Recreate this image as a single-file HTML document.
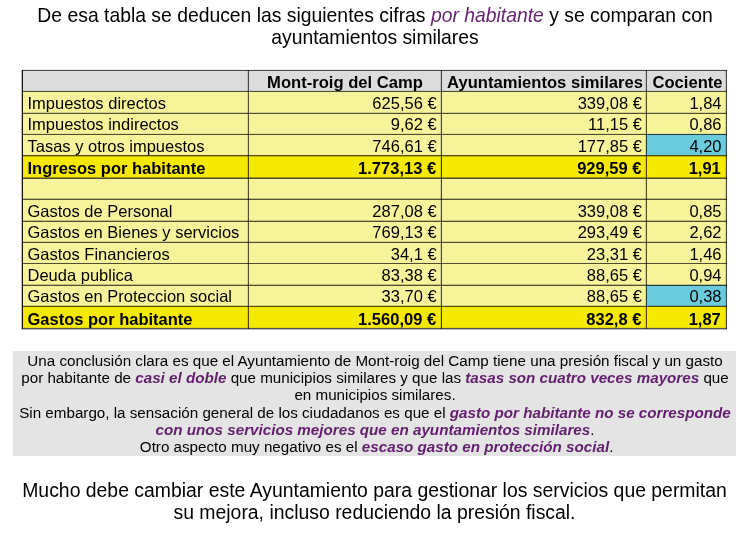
<!DOCTYPE html>
<html><head><meta charset="utf-8"><style>
html,body{margin:0;padding:0;background:#fff;width:743px;height:543px;overflow:hidden;position:relative;font-family:"Liberation Sans",sans-serif;color:#000}
.a{position:absolute}
.c{position:absolute;white-space:nowrap;font-size:16.5px;line-height:20px}
.r{text-align:right}
.ctr{text-align:center}
.b{font-weight:bold}
.hd{font-size:16.6px}
.t{position:absolute;text-align:center;font-size:19.35px;line-height:22px;white-space:nowrap}
.p{color:#682472;font-style:italic}
.g{position:absolute;text-align:center;font-size:15.2px;line-height:17px;white-space:nowrap;width:800px}
.pb{color:#63206e;font-style:italic;font-weight:bold}
</style></head><body><div id="w" style="position:absolute;left:0;top:0;width:743px;height:543px;will-change:transform">
<div class="t" style="top:4px;left:3.5px;width:743px">De esa tabla se deducen las siguientes cifras <span class="p">por habitante</span> y se comparan con<br>ayuntamientos similares</div>
<div class="a" style="left:22px;top:70px;width:704px;height:21px;background:#dcdcdc"></div>
<div class="a" style="left:22px;top:91px;width:704px;height:22px;background:#f7f39b"></div>
<div class="a" style="left:22px;top:113px;width:704px;height:21px;background:#f7f39b"></div>
<div class="a" style="left:22px;top:134px;width:704px;height:21px;background:#f7f39b"></div>
<div class="a" style="left:646px;top:134px;width:80px;height:21px;background:#6bcbdd"></div>
<div class="a" style="left:22px;top:155px;width:704px;height:23px;background:#f5e900"></div>
<div class="a" style="left:22px;top:178px;width:704px;height:21px;background:#f7f39b"></div>
<div class="a" style="left:22px;top:199px;width:704px;height:22px;background:#f7f39b"></div>
<div class="a" style="left:22px;top:221px;width:704px;height:21px;background:#f7f39b"></div>
<div class="a" style="left:22px;top:242px;width:704px;height:21px;background:#f7f39b"></div>
<div class="a" style="left:22px;top:263px;width:704px;height:22px;background:#f7f39b"></div>
<div class="a" style="left:22px;top:285px;width:704px;height:21px;background:#f7f39b"></div>
<div class="a" style="left:646px;top:285px;width:80px;height:21px;background:#6bcbdd"></div>
<div class="a" style="left:22px;top:306px;width:704px;height:22px;background:#f5e900"></div>
<div class="a" style="left:22px;top:70px;width:705px;height:1px;background:rgba(0,0,0,0.68)"></div>
<div class="a" style="left:22px;top:69px;width:705px;height:1px;background:rgba(0,0,0,0.07)"></div>
<div class="a" style="left:22px;top:91px;width:705px;height:1px;background:rgba(0,0,0,0.68)"></div>
<div class="a" style="left:22px;top:90px;width:705px;height:1px;background:rgba(0,0,0,0.07)"></div>
<div class="a" style="left:22px;top:113px;width:705px;height:1px;background:rgba(0,0,0,0.68)"></div>
<div class="a" style="left:22px;top:112px;width:705px;height:1px;background:rgba(0,0,0,0.14)"></div>
<div class="a" style="left:22px;top:134px;width:705px;height:1px;background:rgba(0,0,0,0.68)"></div>
<div class="a" style="left:22px;top:133px;width:705px;height:1px;background:rgba(0,0,0,0.07)"></div>
<div class="a" style="left:22px;top:155px;width:705px;height:1px;background:rgba(0,0,0,0.68)"></div>
<div class="a" style="left:22px;top:156px;width:705px;height:1px;background:rgba(0,0,0,0.21)"></div>
<div class="a" style="left:22px;top:178px;width:705px;height:1px;background:rgba(0,0,0,0.68)"></div>
<div class="a" style="left:22px;top:177px;width:705px;height:1px;background:rgba(0,0,0,0.35)"></div>
<div class="a" style="left:22px;top:199px;width:705px;height:1px;background:rgba(0,0,0,0.68)"></div>
<div class="a" style="left:22px;top:198px;width:705px;height:1px;background:rgba(0,0,0,0.21)"></div>
<div class="a" style="left:22px;top:221px;width:705px;height:1px;background:rgba(0,0,0,0.68)"></div>
<div class="a" style="left:22px;top:220px;width:705px;height:1px;background:rgba(0,0,0,0.21)"></div>
<div class="a" style="left:22px;top:242px;width:705px;height:1px;background:rgba(0,0,0,0.68)"></div>
<div class="a" style="left:22px;top:241px;width:705px;height:1px;background:rgba(0,0,0,0.14)"></div>
<div class="a" style="left:22px;top:263px;width:705px;height:1px;background:rgba(0,0,0,0.68)"></div>
<div class="a" style="left:22px;top:285px;width:705px;height:1px;background:rgba(0,0,0,0.68)"></div>
<div class="a" style="left:22px;top:284px;width:705px;height:1px;background:rgba(0,0,0,0.21)"></div>
<div class="a" style="left:22px;top:306px;width:705px;height:1px;background:rgba(0,0,0,0.68)"></div>
<div class="a" style="left:22px;top:305px;width:705px;height:1px;background:rgba(0,0,0,0.14)"></div>
<div class="a" style="left:22px;top:328px;width:705px;height:1px;background:rgba(0,0,0,0.68)"></div>
<div class="a" style="left:22px;top:327px;width:705px;height:1px;background:rgba(0,0,0,0.07)"></div>
<div class="a" style="left:21px;top:70px;width:1px;height:260px;background:rgba(0,0,0,0.18)"></div>
<div class="a" style="left:22px;top:329px;width:705px;height:1px;background:rgba(0,0,0,0.25)"></div>
<div class="a" style="left:22px;top:70px;width:1px;height:259px;background:rgba(0,0,0,0.92)"></div>
<div class="a" style="left:21px;top:70px;width:1px;height:259px;background:rgba(0,0,0,0.12)"></div>
<div class="a" style="left:248px;top:70px;width:1px;height:259px;background:rgba(0,0,0,0.68)"></div>
<div class="a" style="left:247px;top:70px;width:1px;height:259px;background:rgba(0,0,0,0.12)"></div>
<div class="a" style="left:441px;top:70px;width:1px;height:259px;background:rgba(0,0,0,0.7)"></div>
<div class="a" style="left:440px;top:70px;width:1px;height:259px;background:rgba(0,0,0,0.12)"></div>
<div class="a" style="left:646px;top:70px;width:1px;height:259px;background:rgba(0,0,0,0.68)"></div>
<div class="a" style="left:645px;top:70px;width:1px;height:259px;background:rgba(0,0,0,0.12)"></div>
<div class="a" style="left:726px;top:70px;width:1px;height:259px;background:rgba(0,0,0,0.72)"></div>
<div class="a" style="left:725px;top:70px;width:1px;height:259px;background:rgba(0,0,0,0.12)"></div>
<div class="c ctr b hd" style="left:249px;width:192px;top:73px">Mont-roig del Camp</div>
<div class="c ctr b hd" style="left:443px;width:204px;top:73px">Ayuntamientos similares</div>
<div class="c ctr b hd" style="left:648px;width:79px;top:73px">Cociente</div>
<div class="c" style="left:27.5px;top:93px">Impuestos directos</div>
<div class="c r" style="left:248px;width:188.60000000000002px;top:93px">625,56 €</div>
<div class="c r" style="left:441px;width:200.89999999999998px;top:93px">339,08 €</div>
<div class="c r" style="left:646px;width:75.5px;top:93px">1,84</div>
<div class="c" style="left:27.5px;top:114px">Impuestos indirectos</div>
<div class="c r" style="left:248px;width:188.60000000000002px;top:114px">9,62 €</div>
<div class="c r" style="left:441px;width:200.89999999999998px;top:114px">11,15 €</div>
<div class="c r" style="left:646px;width:75.5px;top:114px">0,86</div>
<div class="c" style="left:27.5px;top:136px">Tasas y otros impuestos</div>
<div class="c r" style="left:248px;width:188.60000000000002px;top:136px">746,61 €</div>
<div class="c r" style="left:441px;width:200.89999999999998px;top:136px">177,85 €</div>
<div class="c r" style="left:646px;width:75.5px;top:136px">4,20</div>
<div class="c b" style="left:27.5px;top:158px">Ingresos por habitante</div>
<div class="c r b" style="left:248px;width:188.10000000000002px;top:158px">1.773,13 €</div>
<div class="c r b" style="left:441px;width:200.39999999999998px;top:158px">929,59 €</div>
<div class="c r b" style="left:646px;width:74.79999999999995px;top:158px">1,91</div>
<div class="c" style="left:27.5px;top:201px">Gastos de Personal</div>
<div class="c r" style="left:248px;width:188.60000000000002px;top:201px">287,08 €</div>
<div class="c r" style="left:441px;width:200.89999999999998px;top:201px">339,08 €</div>
<div class="c r" style="left:646px;width:75.5px;top:201px">0,85</div>
<div class="c" style="left:27.5px;top:222px">Gastos en Bienes y servicios</div>
<div class="c r" style="left:248px;width:188.60000000000002px;top:222px">769,13 €</div>
<div class="c r" style="left:441px;width:200.89999999999998px;top:222px">293,49 €</div>
<div class="c r" style="left:646px;width:75.5px;top:222px">2,62</div>
<div class="c" style="left:27.5px;top:244px">Gastos Financieros</div>
<div class="c r" style="left:248px;width:188.60000000000002px;top:244px">34,1 €</div>
<div class="c r" style="left:441px;width:200.89999999999998px;top:244px">23,31 €</div>
<div class="c r" style="left:646px;width:75.5px;top:244px">1,46</div>
<div class="c" style="left:27.5px;top:265px">Deuda publica</div>
<div class="c r" style="left:248px;width:188.60000000000002px;top:265px">83,38 €</div>
<div class="c r" style="left:441px;width:200.89999999999998px;top:265px">88,65 €</div>
<div class="c r" style="left:646px;width:75.5px;top:265px">0,94</div>
<div class="c" style="left:27.5px;top:286px">Gastos en Proteccion social</div>
<div class="c r" style="left:248px;width:188.60000000000002px;top:286px">33,70 €</div>
<div class="c r" style="left:441px;width:200.89999999999998px;top:286px">88,65 €</div>
<div class="c r" style="left:646px;width:75.5px;top:286px">0,38</div>
<div class="c b" style="left:27.5px;top:309px">Gastos por habitante</div>
<div class="c r b" style="left:248px;width:188.10000000000002px;top:309px">1.560,09 €</div>
<div class="c r b" style="left:441px;width:200.39999999999998px;top:309px">832,8 €</div>
<div class="c r b" style="left:646px;width:74.79999999999995px;top:309px">1,87</div>
<div class="a" style="left:13px;top:351px;width:723px;height:105px;background:#e4e4e4"></div>
<div class="g" style="top:352px;left:-25px">Una conclusión clara es que el Ayuntamiento de Mont-roig del Camp tiene una presión fiscal y un gasto</div>
<div class="g" style="top:369px;left:-25px">por habitante de <span class="pb">casi el doble</span> que municipios similares y que las <span class="pb">tasas son cuatro veces mayores</span> que</div>
<div class="g" style="top:386px;left:-25px">en municipios similares.</div>
<div class="g" style="top:404px;left:-25px">Sin embargo, la sensación general de los ciudadanos es que el <span class="pb">gasto por habitante no se corresponde</span></div>
<div class="g" style="top:421px;left:-25px"><span class="pb">con unos servicios mejores que en ayuntamientos similares</span>.</div>
<div class="g" style="top:438px;left:-23.4px">Otro aspecto muy negativo es el <span class="pb">escaso gasto en protección social</span>.</div>
<div class="t" style="top:479px;left:3px;width:743px;font-size:19.4px">Mucho debe cambiar este Ayuntamiento para gestionar los servicios que permitan<br>su mejora, incluso reduciendo la presión fiscal.</div>
</div></body></html>
